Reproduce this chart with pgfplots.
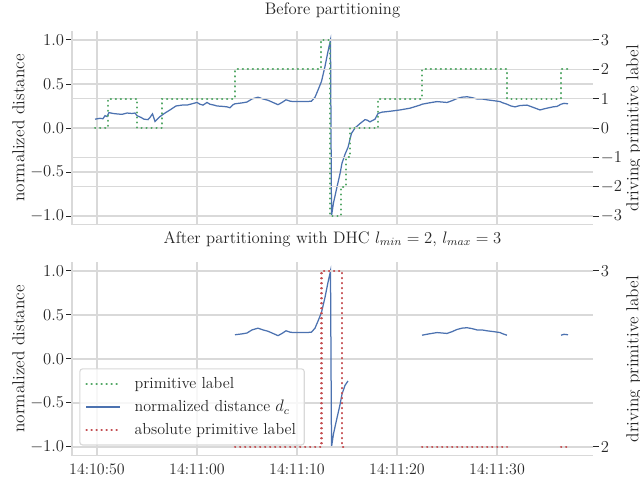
\documentclass[border=0pt]{standalone}
\usepackage{fontspec}
\usepackage{pgfplots}
\usepackage{pgfplotstable}
\pgfplotsset{compat=1.18}
\definecolor{sbblue}{HTML}{4C72B0}
\definecolor{sbgreen}{HTML}{55A868}
\definecolor{sbred}{HTML}{C44E52}
\definecolor{gridc}{HTML}{D9D9D9}
\definecolor{txt}{HTML}{262626}

\pgfplotstableread{
t v
-0.2 0.10
0.3 0.11
0.6 0.105
0.8 0.14
1.0 0.13
1.2 0.175
1.6 0.165
2.0 0.16
2.5 0.155
3.0 0.17
3.5 0.165
3.8 0.17
4.0 0.14
4.4 0.12
4.7 0.10
5.1 0.095
5.3 0.12
5.55 0.16
5.8 0.075
6.3 0.13
6.8 0.17
7.3 0.205
7.9 0.25
8.5 0.26
9.0 0.26
9.5 0.275
10.0 0.29
10.3 0.27
10.6 0.26
11.0 0.29
11.3 0.27
11.7 0.26
12.0 0.25
12.6 0.245
13.0 0.24
13.3 0.23
13.6 0.265
13.8 0.275
14.5 0.285
15.0 0.295
15.5 0.33
16.1 0.35
16.6 0.33
17.1 0.315
17.6 0.29
18.1 0.265
18.5 0.29
18.9 0.32
19.3 0.305
19.6 0.30
20.3 0.30
21.0 0.30
21.45 0.305
21.8 0.35
22.1 0.43
22.45 0.53
22.8 0.70
23.1 0.87
23.35 1.0
23.45 -1.0
23.65 -0.85
24.0 -0.67
24.3 -0.52
24.5 -0.40
24.8 -0.30
25.1 -0.22
25.45 -0.06
25.8 0.0
26.3 0.05
26.8 0.095
27.0 0.09
27.3 0.07
27.8 0.10
28.1 0.165
28.5 0.18
29.3 0.19
30.3 0.205
31.3 0.225
32.3 0.26
32.5 0.27
33.2 0.285
34.0 0.30
35.0 0.29
35.5 0.31
36.0 0.335
36.5 0.35
37.0 0.355
37.5 0.345
38.0 0.33
38.5 0.33
39.0 0.32
39.7 0.31
40.3 0.30
40.6 0.285
41.0 0.27
41.4 0.25
41.8 0.24
42.3 0.255
43.0 0.26
43.6 0.235
44.3 0.205
44.8 0.22
45.2 0.23
45.6 0.24
46.0 0.245
46.4 0.27
46.7 0.28
47.1 0.275
}\dctop

\pgfplotstableread{
t l
-0.2 0
1.1 1
4.0 0
6.5 1
13.8 2
22.37 3
23.3 -3
24.4 -2
24.9 -1
25.3 0
28.13 1
32.5 2
41.0 1
46.4 2
47.1 2
}\labtop

\pgfplotstableread{
t v
13.8 0.275
14.5 0.285
15.0 0.295
15.5 0.33
16.1 0.35
16.6 0.33
17.1 0.315
17.6 0.29
18.1 0.265
18.5 0.29
18.9 0.32
19.3 0.305
19.6 0.30
20.3 0.30
21.0 0.30
21.45 0.305
21.8 0.35
22.1 0.43
22.45 0.53
22.8 0.70
23.1 0.87
23.35 1.0
23.45 -1.0
23.65 -0.85
24.0 -0.67
24.3 -0.52
24.5 -0.40
24.8 -0.30
25.1 -0.25
nan nan
32.5 0.27
33.2 0.285
34.0 0.30
35.0 0.29
35.5 0.31
36.0 0.335
36.5 0.35
37.0 0.355
37.5 0.345
38.0 0.33
38.5 0.33
39.0 0.32
39.7 0.31
40.3 0.30
40.6 0.285
41.0 0.27
nan nan
46.4 0.27
46.7 0.28
47.1 0.275
}\dcbot

\pgfplotstableread{
t l
13.8 2
22.45 3
24.5 2
24.9 2
}\absA
\pgfplotstableread{
t l
32.5 2
41.0 2
}\absB
\pgfplotstableread{
t l
46.4 2
47.1 2
}\absC

\pgfplotsset{
  base/.style={
    scale only axis, width=375.12pt, height=139.4pt,
    xmin=-2.5, xmax=49.6, xtick={0,10,20,30,40},
    grid style={gridc, line width=0.8pt},
    tick label style={font=\fontsize{11.5}{13}\selectfont, text=txt},
    title style={font=\fontsize{12}{14}\selectfont, text=txt},
    major tick length=4pt, tick align=outside,
    xtick style={draw=none},
    ytick style={txt, line width=0.7pt},
    yticklabel style={inner xsep=1.5pt},
    xticklabel style={yshift=2pt},
  },
  leftax/.style={
    base, ymin=-1.1, ymax=1.1, ytick={-1,-0.5,0,0.5,1},
    yticklabels={$-1.0$,$-0.5$,$0.0$,$0.5$,$1.0$},
    axis lines*=left, axis line style={gridc, line width=1pt},
    xmajorgrids, ymajorgrids,
    ylabel={normalized distance},
    every axis y label/.style={at={(axis description cs:-0.103,0.5)}, rotate=90, anchor=center, font=\fontsize{12.5}{14}\selectfont, text=txt},
  },
  rightax/.style={
    base, axis x line=none, axis y line*=right, axis line style={draw=none},
    ymajorgrids,
    ylabel={driving primitive label},
    every axis y label/.style={at={(axis description cs:1.079,0.5)}, rotate=90, anchor=center, font=\fontsize{12.5}{14}\selectfont, text=txt},
  },
  dotline/.style={line width=1.45pt, line cap=round, dash pattern=on 0.3pt off 3.3pt},
}

\begin{document}
\begin{tikzpicture}
\useasboundingbox (0,0) rectangle (460.8pt,344.16pt);

% ---------- top ----------
\begin{axis}[leftax, at={(51.84pt,182.3pt)}, anchor=south west,
  xticklabels={},
  title={Before partitioning},
  title style={at={(axis description cs:0.5,1.066)}, anchor=center}]
\addplot[sbblue, line width=0.9pt] table[x=t,y=v]{\dctop};
\end{axis}
\begin{axis}[rightax, at={(51.84pt,182.3pt)}, anchor=south west,
  ymin=-3.3, ymax=3.3, ytick={-3,-2,-1,0,1,2,3}]
\addplot[sbgreen, dotline, const plot] table[x=t,y=l]{\labtop};
\end{axis}

% ---------- bottom ----------
\begin{axis}[leftax, at={(51.84pt,16pt)}, anchor=south west,
  xticklabels={14:10:50,14:11:00,14:11:10,14:11:20,14:11:30},
  title={After partitioning with DHC $l_{min}=2$, $l_{max}=3$},
  title style={at={(axis description cs:0.5,1.076)}, anchor=center}]
\addplot[sbblue, line width=0.9pt, unbounded coords=jump] table[x=t,y=v]{\dcbot};
\end{axis}
\begin{axis}[rightax, at={(51.84pt,16pt)}, anchor=south west,
  ymin=1.95, ymax=3.05, ytick={2,3},
  legend cell align=left,
  legend image code/.code={\draw[#1] (0pt,0pt) -- (24pt,0pt);},
  legend style={at={(axis description cs:0.014,0.053)}, anchor=south west,
    draw=gridc, line width=0.8pt, rounded corners=2pt, fill=white, fill opacity=0.8, text opacity=1,
    font=\fontsize{11.5}{13}\selectfont, text=txt, row sep=3pt, inner xsep=4pt, inner ysep=4pt,
    /tikz/every odd column/.append style={column sep=8pt}}]
\addlegendimage{sbgreen, dotline}
\addlegendentry{primitive label}
\addlegendimage{sbblue, line width=0.9pt}
\addlegendentry{normalized distance $d_c$}
\addlegendimage{sbred, dotline}
\addlegendentry{absolute primitive label}
\addplot[sbred, dotline, const plot, forget plot] table[x=t,y=l]{\absA};
\addplot[sbred, dotline, const plot, forget plot] table[x=t,y=l]{\absB};
\addplot[sbred, dotline, const plot, forget plot] table[x=t,y=l]{\absC};
\end{axis}
\end{tikzpicture}
\end{document}
